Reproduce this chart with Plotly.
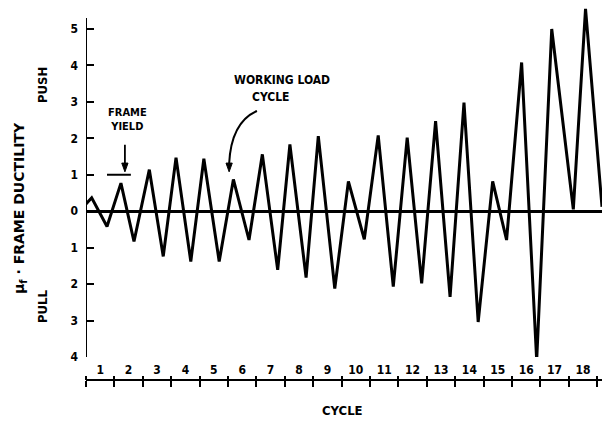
import plotly.graph_objects as go

# Frame ductility history: turning points of the load cycles
cycle_pos = [0.0, 0.2, 0.74, 1.23, 1.69, 2.23, 2.72, 3.17, 3.69, 4.15, 4.69,
             5.19, 5.74, 6.21, 6.75, 7.18, 7.75, 8.18, 8.76, 9.24, 9.80,
             10.29, 10.82, 11.31, 11.82, 12.31, 12.82, 13.31, 13.81, 14.32,
             14.81, 15.34, 15.87, 16.40, 17.16, 17.59, 18.17]
ductility = [0.2, 0.37, -0.42, 0.77, -0.83, 1.14, -1.24, 1.47, -1.38, 1.44,
             -1.38, 0.87, -0.79, 1.56, -1.61, 1.83, -1.82, 2.06, -2.12, 0.82,
             -0.77, 2.08, -2.07, 2.02, -1.98, 2.47, -2.35, 2.98, -3.04, 0.82,
             -0.79, 4.08, -4.09, 5.0, 0.05, 5.55, 0.12]

cycle_labels = [str(n) for n in range(1, 19)]
cycle_label_pos = [n - 0.5 for n in range(1, 19)]
cycle_bounds = list(range(0, 19))
y_ticks = [-4, -3, -2, -1, 0, 1, 2, 3, 4, 5]
y_tick_text = [str(abs(v)) for v in y_ticks]
frame_yield = 1.0

W, H = 604, 425
ML, MR, MT, MB = 86, 2, 8, 45
X_RANGE = [0, 18.17]
Y_RANGE = [-4, 5.575]
Y_AXIS_TOP = 5.3

FONT = "DejaVu Sans Condensed, DejaVu Sans, sans-serif"
FONT_WIDE = "DejaVu Sans, sans-serif"


def px(x):
    return (x - ML) / (W - ML - MR)


def py(y):
    return (H - MB - y) / (H - MT - MB)


fig = go.Figure()
fig.add_trace(go.Scatter(x=cycle_pos, y=ductility, mode="lines",
                         line=dict(color="black", width=3),
                         hoverinfo="skip", showlegend=False))
# empty traces so the overlay tick axes get drawn
fig.add_trace(go.Scatter(x=[], y=[], xaxis="x2", showlegend=False))
fig.add_trace(go.Scatter(x=[], y=[], xaxis="x3", showlegend=False))

tick_font = dict(family=FONT, size=12, color="black", weight="bold")

fig.update_layout(
    width=W, height=H,
    margin=dict(l=ML, r=MR, t=MT, b=MB),
    paper_bgcolor="white", plot_bgcolor="white",
    showlegend=False,
    xaxis=dict(range=X_RANGE, anchor="free", position=0, side="top",
               showline=True, linecolor="black", linewidth=2,
               tickmode="array", tickvals=cycle_label_pos,
               ticktext=cycle_labels, ticks="", tickfont=tick_font,
               showgrid=False, zeroline=False, fixedrange=True),
    xaxis2=dict(range=X_RANGE, overlaying="x", anchor="free", position=0,
                side="bottom", showline=False, tickmode="array",
                tickvals=cycle_bounds, ticks="outside", ticklen=6,
                tickwidth=1.5, tickcolor="black", showticklabels=False,
                showgrid=False, zeroline=False),
    xaxis3=dict(range=X_RANGE, overlaying="x", anchor="free", position=0,
                side="top", showline=False, tickmode="array",
                tickvals=cycle_bounds, ticks="outside", ticklen=4,
                tickwidth=1.5, tickcolor="black", showticklabels=False,
                showgrid=False, zeroline=False),
    yaxis=dict(range=Y_RANGE, domain=[23 / (H - MT - MB), 1],
               anchor="free", position=0,
               showline=False, tickmode="array", tickvals=y_ticks,
               ticktext=y_tick_text, ticks="inside", ticklen=7, tickwidth=2,
               tickcolor="black", tickfont=tick_font, ticklabelstandoff=8,
               showgrid=False, zeroline=True, zerolinecolor="black",
               zerolinewidth=2.5, fixedrange=True),
)

# vertical axis line, stopping at the top tick region
fig.add_shape(type="line", xref="x", yref="y", x0=0, x1=0,
              y0=Y_RANGE[0], y1=Y_AXIS_TOP,
              line=dict(color="black", width=2))


def arrow_head(x_tip, y_tip, half_w=0.11, depth=0.24):
    fig.add_shape(type="path", xref="x", yref="y",
                  path=(f"M {x_tip},{y_tip} L {x_tip - half_w},{y_tip + depth} "
                        f"L {x_tip + half_w},{y_tip + depth} Z"),
                  fillcolor="black", line=dict(color="black", width=1))


# frame yield level and its arrow
fig.add_shape(type="line", xref="x", yref="y", x0=0.74, x1=1.58,
              y0=frame_yield, y1=frame_yield,
              line=dict(color="black", width=2))
fig.add_shape(type="line", xref="x", yref="y", x0=1.37, x1=1.37,
              y0=1.82, y1=1.25, line=dict(color="black", width=1.8))
arrow_head(1.37, 1.08)

# curved pointer to the working load cycle
fig.add_shape(type="path", xref="x", yref="y",
              path="M 6.02,2.75 Q 5.11,2.44 5.04,1.3",
              line=dict(color="black", width=2))
arrow_head(5.04, 1.08)

label_font = dict(family=FONT, size=11, color="black", weight="bold")


def note(text, x, y, angle=0, size=11, xanchor="center", family=FONT):
    f = dict(label_font)
    f["size"] = size
    f["family"] = family
    fig.add_annotation(x=px(x), y=py(y), xref="paper", yref="paper",
                       text=text, showarrow=False, textangle=angle,
                       font=f, xanchor=xanchor, yanchor="middle")


note("FRAME<br>YIELD", 127, 120)
note("WORKING LOAD", 232, 80, size=12, xanchor="left")
note("CYCLE", 250, 97, size=12, xanchor="left")
note("CYCLE", 342, 410, size=13)
note("PUSH", 42, 85, angle=-90, size=13)
note("PULL", 42, 306, angle=-90, size=13)
note("\u03bc<sub>f</sub> \u00b7 FRAME DUCTILITY", 20, 208, angle=-90,
     size=14, family=FONT_WIDE)

fig.write_html("out.html")
